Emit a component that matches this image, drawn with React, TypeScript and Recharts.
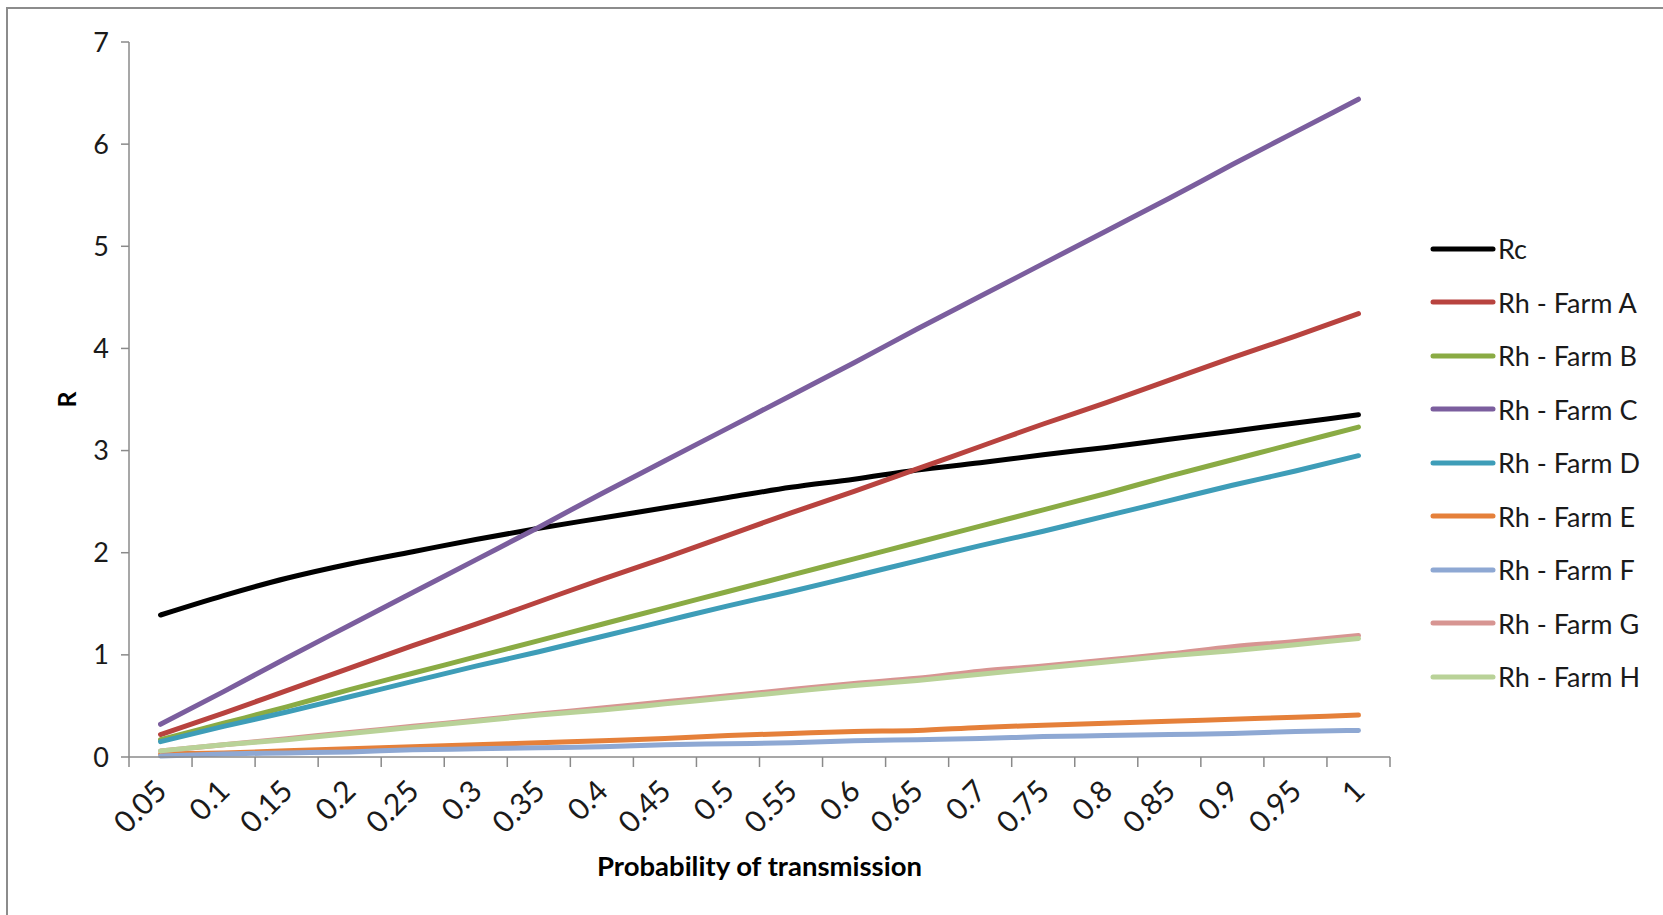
import React from 'react';
import { LineChart, Line, XAxis, YAxis } from 'recharts';

const probs = ['0.05', '0.1', '0.15', '0.2', '0.25', '0.3', '0.35', '0.4', '0.45', '0.5', '0.55', '0.6', '0.65', '0.7', '0.75', '0.8', '0.85', '0.9', '0.95', '1'];

const rc = [1.39, 1.58, 1.75, 1.89, 2.01, 2.13, 2.24, 2.34, 2.44, 2.54, 2.64, 2.72, 2.81, 2.88, 2.96, 3.03, 3.11, 3.19, 3.27, 3.35];
const farmA = [0.22, 0.43, 0.65, 0.87, 1.09, 1.3, 1.52, 1.74, 1.95, 2.17, 2.39, 2.6, 2.82, 3.04, 3.26, 3.47, 3.69, 3.91, 4.12, 4.34];
const farmB = [0.17, 0.33, 0.49, 0.66, 0.82, 0.98, 1.14, 1.3, 1.46, 1.62, 1.78, 1.94, 2.1, 2.26, 2.42, 2.58, 2.75, 2.91, 3.07, 3.23];
const farmC = [0.32, 0.64, 0.97, 1.29, 1.61, 1.93, 2.25, 2.58, 2.9, 3.22, 3.54, 3.86, 4.19, 4.51, 4.83, 5.15, 5.47, 5.8, 6.12, 6.44];
const farmD = [0.15, 0.3, 0.44, 0.59, 0.74, 0.89, 1.03, 1.18, 1.33, 1.48, 1.62, 1.77, 1.92, 2.07, 2.21, 2.36, 2.51, 2.66, 2.8, 2.95];
const farmE = [0.03, 0.04, 0.06, 0.08, 0.1, 0.12, 0.14, 0.16, 0.18, 0.21, 0.23, 0.25, 0.26, 0.29, 0.31, 0.33, 0.35, 0.37, 0.39, 0.41];
const farmF = [0.01, 0.03, 0.04, 0.05, 0.07, 0.08, 0.09, 0.1, 0.12, 0.13, 0.14, 0.16, 0.17, 0.18, 0.2, 0.21, 0.22, 0.23, 0.25, 0.26];
const farmG = [0.06, 0.12, 0.18, 0.24, 0.3, 0.36, 0.42, 0.48, 0.54, 0.6, 0.66, 0.72, 0.77, 0.84, 0.89, 0.95, 1.01, 1.08, 1.13, 1.19];
const farmH = [0.06, 0.12, 0.17, 0.23, 0.29, 0.35, 0.41, 0.46, 0.52, 0.58, 0.64, 0.7, 0.75, 0.81, 0.87, 0.93, 0.99, 1.04, 1.1, 1.16];

const yTicks = [0, 1, 2, 3, 4, 5, 6, 7];

const series = [
  { key: 'rc', name: 'Rc', color: '#000000', values: rc },
  { key: 'a', name: 'Rh - Farm A', color: '#b8433f', values: farmA },
  { key: 'b', name: 'Rh - Farm B', color: '#8aab44', values: farmB },
  { key: 'c', name: 'Rh - Farm C', color: '#7b5e9e', values: farmC },
  { key: 'd', name: 'Rh - Farm D', color: '#3e9db8', values: farmD },
  { key: 'e', name: 'Rh - Farm E', color: '#e5803a', values: farmE },
  { key: 'f', name: 'Rh - Farm F', color: '#8ea8d3', values: farmF },
  { key: 'g', name: 'Rh - Farm G', color: '#d79592', values: farmG },
  { key: 'h', name: 'Rh - Farm H', color: '#b9d298', values: farmH },
];

const data = probs.map((p, i) => {
  const row: Record<string, string | number> = { p };
  series.forEach((s) => {
    row[s.key] = s.values[i];
  });
  return row;
});

const W = 1663;
const H = 915;
const LEFT = 129;
const RIGHT = 1390;
const STEP = (RIGHT - LEFT) / probs.length;
const FONT = 'Lato, "Open Sans", sans-serif';
const AXIS = '#8a8a8a';

function XTick(props: any) {
  const { x, y, payload, index } = props;
  const last = index === probs.length - 1;
  const ax = x + 8;
  const ay = y + 36;
  return (
    <g>
      <line x1={x - STEP / 2} x2={x - STEP / 2} y1={y} y2={y + 10} stroke={AXIS} strokeWidth={1.5} />
      {last && <line x1={x + STEP / 2} x2={x + STEP / 2} y1={y} y2={y + 10} stroke={AXIS} strokeWidth={1.5} />}
      <text
        x={ax}
        y={ay}
        transform={`rotate(-45, ${ax}, ${ay})`}
        textAnchor="end"
        fontSize={30}
        fontFamily={FONT}
        fill="#1a1a1a"
      >
        {payload.value}
      </text>
    </g>
  );
}

function LegendList() {
  return (
    <div style={{ position: 'absolute', left: 1430, top: 222, fontFamily: FONT, fontSize: 27, color: '#1a1a1a' }}>
      {series.map((s) => (
        <div key={s.key} style={{ display: 'flex', alignItems: 'center', height: 53.5 }}>
          <svg width={66} height={10} style={{ marginRight: 2 }}>
            <line x1={3} x2={63} y1={5} y2={5} stroke={s.color} strokeWidth={5} strokeLinecap="round" />
          </svg>
          <span>{s.name}</span>
        </div>
      ))}
    </div>
  );
}

export default function App() {
  return (
    <div style={{ position: 'absolute', left: 0, top: 0, width: W, height: H, overflow: 'hidden', background: '#fff' }}>
      <div
        style={{
          position: 'absolute',
          left: 6,
          top: 7,
          width: W + 20,
          height: H + 20,
          border: '2px solid #8c8c8c',
          boxSizing: 'border-box',
        }}
      />
      <div style={{ position: 'absolute', left: 0, top: 0 }}>
        <LineChart width={W} height={H} data={data} margin={{ top: 42, right: W - RIGHT, bottom: 0, left: 0 }}>
          <XAxis
            dataKey="p"
            height={158}
            interval={0}
            padding={{ left: STEP / 2, right: STEP / 2 }}
            tickLine={false}
            tickSize={0}
            tickMargin={0}
            axisLine={{ stroke: AXIS, strokeWidth: 1.5 }}
            tick={<XTick />}
            label={{
              content: ({ viewBox }: any) => (
                <text
                  x={viewBox.x + viewBox.width / 2}
                  y={876}
                  textAnchor="middle"
                  fontSize={27.5}
                  fontWeight="bold"
                  fontFamily={FONT}
                  fill="#000"
                >
                  Probability of transmission
                </text>
              ),
            }}
          />
          <YAxis
            width={LEFT}
            domain={[0, 7]}
            ticks={yTicks}
            interval={0}
            tickSize={8}
            tickMargin={12}
            tickLine={{ stroke: AXIS, strokeWidth: 1.5 }}
            axisLine={{ stroke: AXIS, strokeWidth: 1.5 }}
            tick={{ fontSize: 27, fontFamily: FONT, fill: '#1a1a1a' }}
            label={{
              content: ({ viewBox }: any) => (
                <text
                  x={66}
                  y={viewBox.y + viewBox.height / 2}
                  transform={`rotate(-90, 66, ${viewBox.y + viewBox.height / 2})`}
                  textAnchor="middle"
                  dominantBaseline="central"
                  fontSize={25}
                  fontWeight="bold"
                  fontFamily={FONT}
                  fill="#000"
                >
                  R
                </text>
              ),
            }}
          />
          {series.map((s) => (
            <Line
              key={s.key}
              type="monotone"
              dataKey={s.key}
              name={s.name}
              stroke={s.color}
              strokeWidth={5}
              strokeLinecap="round"
              dot={false}
              activeDot={false}
              isAnimationActive={false}
            />
          ))}
        </LineChart>
      </div>
      <LegendList />
    </div>
  );
}
